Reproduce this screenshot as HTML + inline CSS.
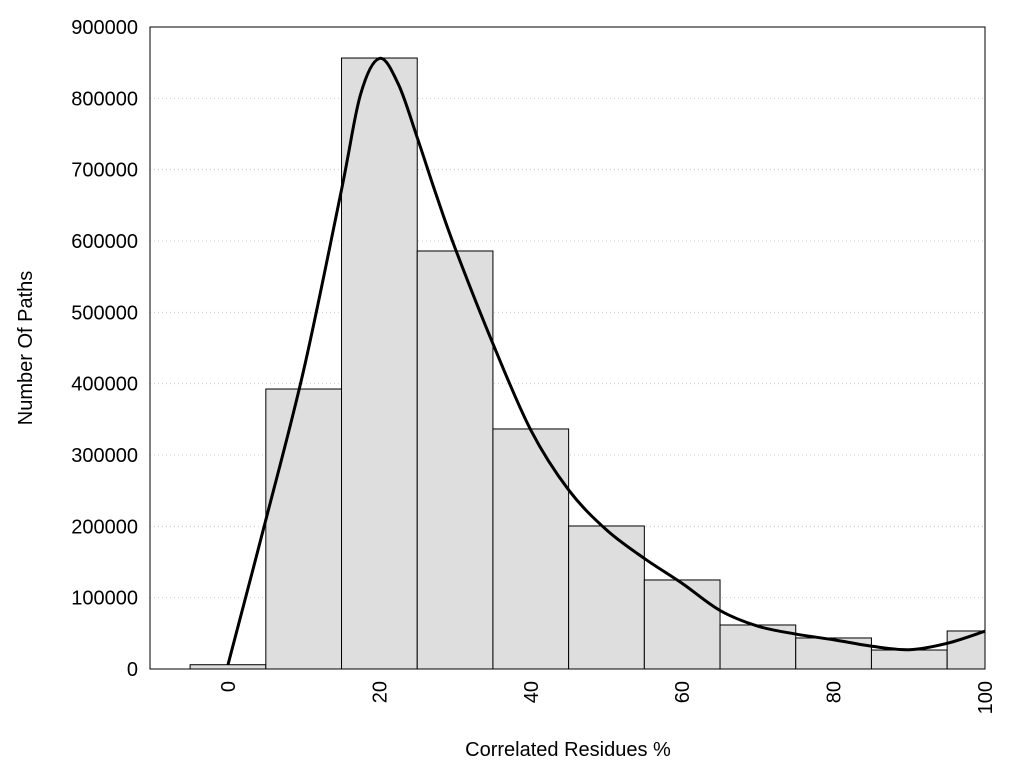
<!DOCTYPE html>
<html><head><meta charset="utf-8"><style>
html,body{margin:0;padding:0;background:#fff;}
svg{display:block;font-family:"Liberation Sans",sans-serif;}
</style></head><body>
<svg id="chart" width="1024" height="768"></svg>
<script>
const binCenters=[0,10,20,30,40,50,60,70,80,90,100];
const binCounts=[6000,392500,856500,586000,336500,200500,124800,61700,43500,26600,53300];
const curveX=[0,5,10,15,17.5,20,22.5,25,27.5,30,35,40,45,50,55,60,65,70,75,80,85,90,95,100];
const curveY=[6000,209000,419000,672000,805000,856000,820000,745000,665000,590000,456000,335000,251000,195000,155000,120000,82000,60000,49000,41000,32000,27000,36000,53000];
const yTicks=[0,100000,200000,300000,400000,500000,600000,700000,800000,900000];
const xTicks=[0,20,40,60,80,100];
const L=150,R=985,T=27,B=669,xmin=-10.3,xmax=100,ymax=900000;
const sx=v=>L+(v-xmin)/(xmax-xmin)*(R-L);
const sy=v=>B-v/ymax*(B-T);
const svg=document.getElementById('chart');
const NS='http://www.w3.org/2000/svg';
function mk(tag,attrs,parent){const e=document.createElementNS(NS,tag);for(const k in attrs)e.setAttribute(k,attrs[k]);(parent||svg).appendChild(e);return e;}
const defs=mk('defs',{});const cp=mk('clipPath',{id:'clip'},defs);mk('rect',{x:L,y:T,width:R-L,height:B-T},cp);
yTicks.forEach(t=>{
  if(t>0&&t<ymax){const g=mk('line',{x1:L,x2:R,y1:sy(t),y2:sy(t),stroke:'#ccc','stroke-dasharray':'1,3'});
  
  }
  const tx=mk('text',{x:L-12,y:sy(t)+7,'text-anchor':'end','font-size':'20'});tx.textContent=t;
  
  
});
const bars=mk('g',{'clip-path':'url(#clip)'});


binCenters.forEach((c,i)=>{
  const r=mk('rect',{x:sx(c-5),y:sy(binCounts[i]),width:sx(c+5)-sx(c-5),height:B-sy(binCounts[i]),fill:'#dedede',stroke:'#000','stroke-width':1},bars);
  
  
});
const pts=curveX.map((x,i)=>[sx(x),sy(curveY[i])]);
let d='M'+pts[0][0]+','+pts[0][1];
for(let i=0;i<pts.length-1;i++){
  const p0=pts[Math.max(i-1,0)],p1=pts[i],p2=pts[i+1],p3=pts[Math.min(i+2,pts.length-1)];
  const c1=[p1[0]+(p2[0]-p0[0])/6,p1[1]+(p2[1]-p0[1])/6],c2=[p2[0]-(p3[0]-p1[0])/6,p2[1]-(p3[1]-p1[1])/6];
  d+=` C${c1[0]},${c1[1]} ${c2[0]},${c2[1]} ${p2[0]},${p2[1]}`;
}
const curve=mk('path',{d:d,fill:'none',stroke:'#000','stroke-width':3,'clip-path':'url(#clip)'});


const frame=mk('rect',{x:L,y:T,width:R-L,height:B-T,fill:'none',stroke:'#000','stroke-width':1});


xTicks.forEach(t=>{
  const x=sx(t);
  const tx=mk('text',{x:0,y:0,'text-anchor':'end','font-size':'20',transform:`translate(${x+7},${B+12}) rotate(-90)`});tx.textContent=t;
  
  
});
const xt=mk('text',{x:568,y:756,'text-anchor':'middle','font-size':'20'});xt.textContent='Correlated Residues %';


const yt=mk('text',{x:0,y:0,'text-anchor':'middle','font-size':'20',transform:'translate(32,348) rotate(-90)'});yt.textContent='Number Of Paths';


</script>
</body></html>
